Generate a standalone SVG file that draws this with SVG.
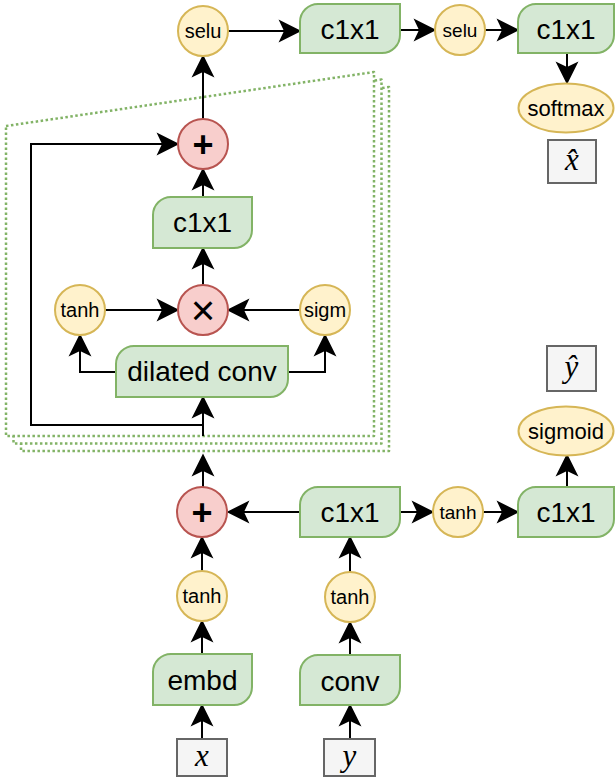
<svg xmlns="http://www.w3.org/2000/svg" width="615" height="781" viewBox="0 0 615 781">
<defs>
<marker id="arr" markerUnits="userSpaceOnUse" markerWidth="24" markerHeight="24" viewBox="0 -11 22 22" refX="5" refY="0" orient="auto" overflow="visible">
<path d="M0,-10.5 L21,0 L0,10.5 L5,0 Z" fill="#000"/>
</marker>
</defs>
<style>
.g{fill:#d5e8d4;stroke:#82b366;stroke-width:2}
.y{fill:#fff2cc;stroke:#d6b656;stroke-width:2}
.r{fill:#f8cecc;stroke:#b85450;stroke-width:2}
.b{fill:#f5f5f5;stroke:#666666;stroke-width:2}
.d{fill:#ffffff;stroke:#82b366;stroke-width:2.5;stroke-dasharray:2.5 2.5;stroke-linejoin:round}
.c{fill:none;stroke:#000;stroke-width:2;marker-end:url(#arr)}
text{font-family:"Liberation Sans",Arial,sans-serif;text-anchor:middle;fill:#000}
.t27{font-size:28px}
.t19{font-size:20px}
.t22{font-size:22px}
.sym{font-size:36px;font-weight:bold}
.mul{font-size:42px}
.m{font-family:"Liberation Serif","Times New Roman",serif;font-style:italic;font-size:31px}
</style>

<g id="stack">
<path class="d" d="M21,141 L389,87 L389,451 L21,451 Z"/>
<path class="d" d="M13.5,133.5 L381.5,79.5 L381.5,443.5 L13.5,443.5 Z"/>
<path class="d" d="M6,126 L374,72 L374,436 L6,436 Z"/>
</g>

<g id="connectors">
<path class="c" d="M203,119 V72"/>
<path class="c" d="M228,31 H284"/>
<path class="c" d="M400,30 H419"/>
<path class="c" d="M485,30 H502"/>
<path class="c" d="M567,53 V67"/>
<path class="c" d="M203,197 V185"/>
<path class="c" d="M203,285 V264"/>
<path class="c" d="M105,310 H162"/>
<path class="c" d="M300,310 H244"/>
<path class="c" d="M116,372 H80 V351"/>
<path class="c" d="M288,372 H325 V351"/>
<path class="c" d="M203,436 V413"/>
<path class="c" d="M203,425 H31 V144 H162"/>
<path class="c" d="M203,487 V471"/>
<path class="c" d="M300,512 H244"/>
<path class="c" d="M400,512 H417"/>
<path class="c" d="M483,512 H502"/>
<path class="c" d="M567,487 V471"/>
<path class="c" d="M202,571 V553"/>
<path class="c" d="M202,654 V637"/>
<path class="c" d="M202,739 V721"/>
<path class="c" d="M350,572 V553"/>
<path class="c" d="M350,655 V638"/>
<path class="c" d="M350,739 V721"/>
</g>

<g id="selu1"><circle class="y" cx="203" cy="31" r="25"/><text class="t19" x="203" y="31" dy="0.35em">selu</text></g>
<g id="c1x1-top1"><path class="g" d="M318,4 H400 V35 A18,18 0 0 1 382,53 H300 V22 A18,18 0 0 1 318,4 Z"/><text class="t27" x="350" y="29" dy="0.35em">c1x1</text></g>
<g id="selu2"><circle class="y" cx="460" cy="30" r="25"/><text class="t19" x="460" y="30" dy="0.35em" style="font-size:19px">selu</text></g>
<g id="c1x1-top2"><path class="g" d="M536,4 H614 V35 A18,18 0 0 1 596,53 H518 V22 A18,18 0 0 1 536,4 Z"/><text class="t27" x="566" y="29" dy="0.35em">c1x1</text></g>
<g id="softmax"><ellipse class="y" cx="566" cy="108" rx="47.5" ry="24.5"/><text class="t22" x="566" y="108" dy="0.35em">softmax</text></g>
<g id="xhat"><rect class="b" x="548" y="140" width="48" height="43"/><text class="m" x="572" y="170">x̂</text></g>

<g id="plus-top"><circle class="r" cx="203" cy="144" r="25"/><text class="sym" x="203" y="144" dy="0.35em">+</text></g>
<g id="c1x1-mid"><path class="g" d="M171,197 H252 V230 A18,18 0 0 1 234,248 H153 V215 A18,18 0 0 1 171,197 Z"/><text class="t27" x="202.5" y="222" dy="0.35em">c1x1</text></g>
<g id="times"><circle class="r" cx="203" cy="310" r="25"/><text class="mul" x="203" y="310" dy="0.35em">×</text></g>
<g id="tanh-gate"><circle class="y" cx="80" cy="310" r="25"/><text class="t19" x="80" y="310" dy="0.35em">tanh</text></g>
<g id="sigm"><circle class="y" cx="325" cy="310" r="25"/><text class="t19" x="325" y="310" dy="0.35em">sigm</text></g>
<g id="dilated"><path class="g" d="M134,346 H288 V379 A18,18 0 0 1 270,397 H116 V364 A18,18 0 0 1 134,346 Z"/><text class="t27" x="202" y="371" dy="0.35em">dilated conv</text></g>

<g id="yhat"><rect class="b" x="547" y="346" width="49" height="45"/><text class="m" x="571.5" y="377">ŷ</text></g>
<g id="sigmoid"><ellipse class="y" cx="566" cy="431" rx="47.5" ry="24.5"/><text class="t22" x="566" y="431" dy="0.35em">sigmoid</text></g>

<g id="plus-low"><circle class="r" cx="202" cy="512" r="25"/><text class="sym" x="202" y="512" dy="0.35em">+</text></g>
<g id="c1x1-low"><path class="g" d="M318,487 H400 V519 A18,18 0 0 1 382,537 H300 V505 A18,18 0 0 1 318,487 Z"/><text class="t27" x="350" y="512" dy="0.35em">c1x1</text></g>
<g id="tanh-mid"><circle class="y" cx="458" cy="512" r="25"/><text class="t19" x="458" y="512" dy="0.35em" style="font-size:19px">tanh</text></g>
<g id="c1x1-low2"><path class="g" d="M536,487 H614 V519 A18,18 0 0 1 596,537 H518 V505 A18,18 0 0 1 536,487 Z"/><text class="t27" x="566" y="512" dy="0.35em">c1x1</text></g>

<g id="tanh-x"><circle class="y" cx="202" cy="596" r="25"/><text class="t19" x="202" y="596" dy="0.35em">tanh</text></g>
<g id="tanh-y"><circle class="y" cx="350" cy="597" r="25"/><text class="t19" x="350" y="597" dy="0.35em">tanh</text></g>
<g id="embd"><path class="g" d="M171,654 H252 V687 A18,18 0 0 1 234,705 H153 V672 A18,18 0 0 1 171,654 Z"/><text class="t27" x="202.5" y="680" dy="0.35em">embd</text></g>
<g id="conv"><path class="g" d="M318,655 H400 V687 A18,18 0 0 1 382,705 H300 V673 A18,18 0 0 1 318,655 Z"/><text class="t27" x="350" y="681" dy="0.35em">conv</text></g>
<g id="x"><rect class="b" x="177" y="739" width="50" height="37"/><text class="m" x="202" y="766">x</text></g>
<g id="y"><rect class="b" x="324" y="739" width="51" height="37"/><text class="m" x="349.5" y="766">y</text></g>
</svg>
